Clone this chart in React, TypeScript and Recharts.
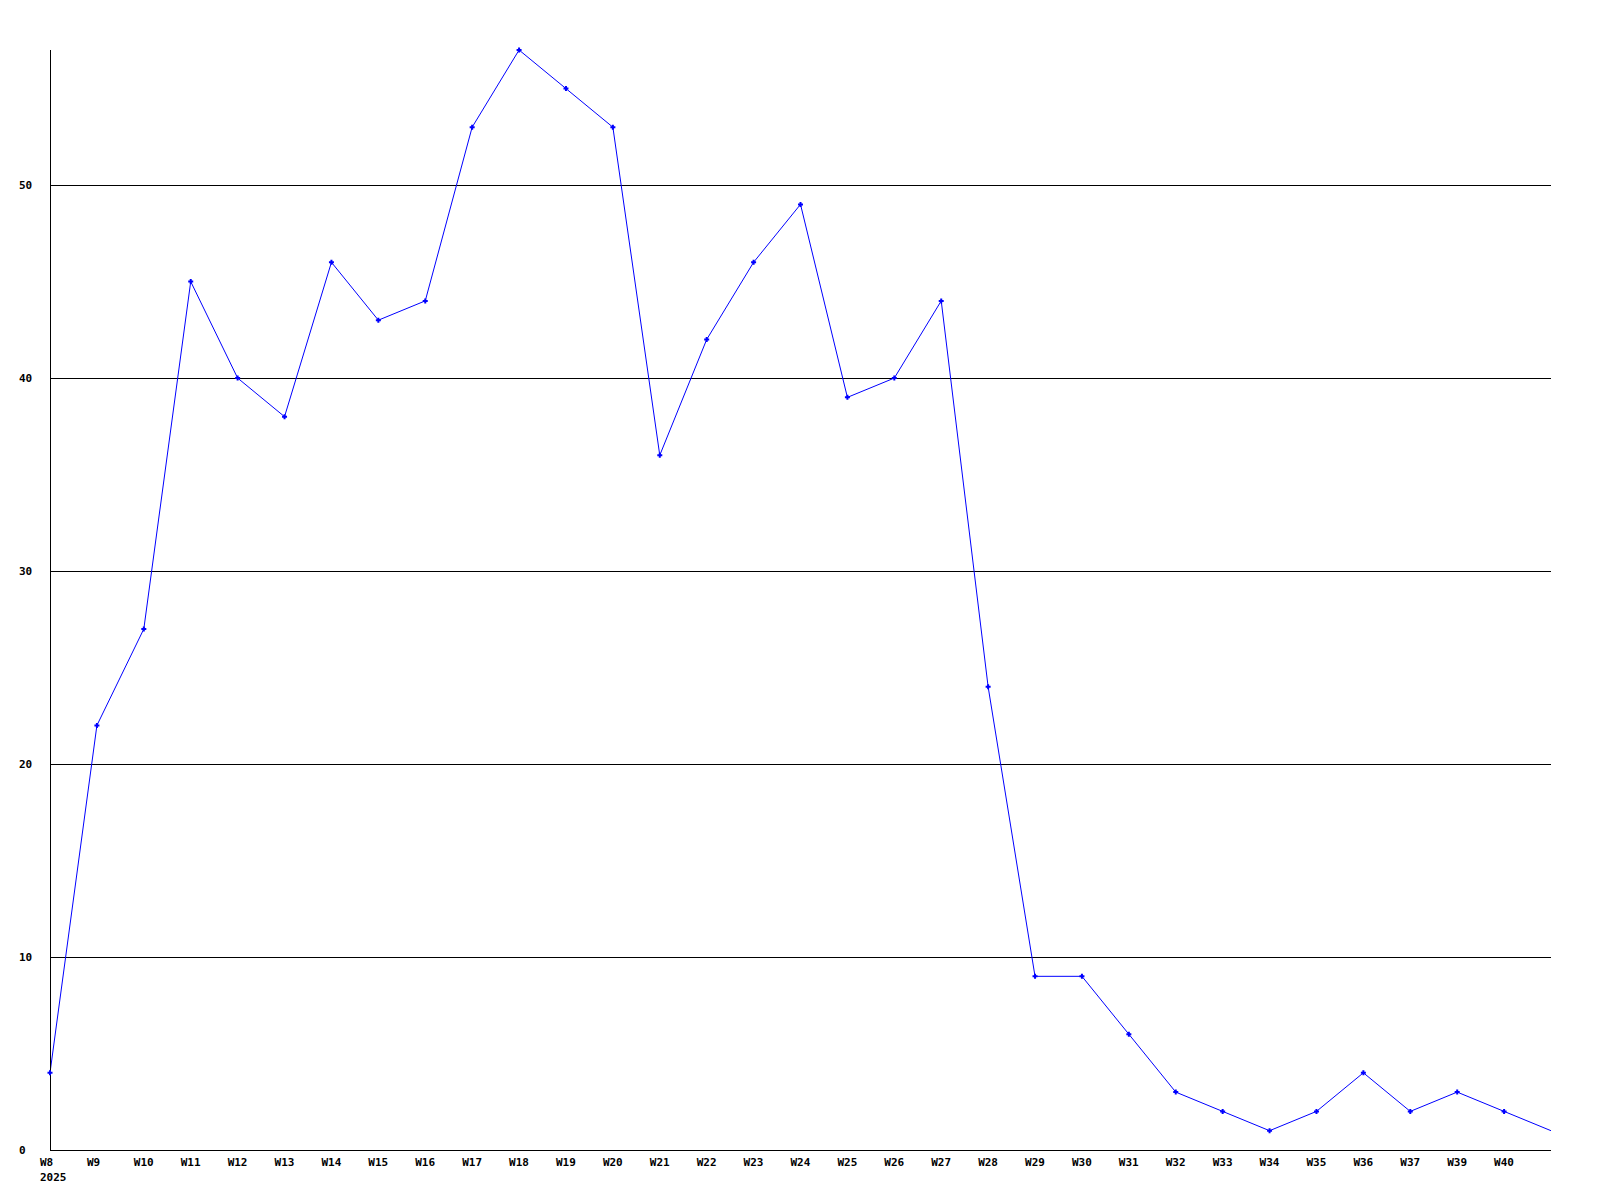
import React from 'react';
import { LineChart, Line, XAxis, YAxis, CartesianGrid } from 'recharts';

const weeks = [
  'W8', 'W9', 'W10', 'W11', 'W12', 'W13', 'W14', 'W15', 'W16', 'W17', 'W18',
  'W19', 'W20', 'W21', 'W22', 'W23', 'W24', 'W25', 'W26', 'W27', 'W28', 'W29',
  'W30', 'W31', 'W32', 'W33', 'W34', 'W35', 'W36', 'W37', 'W39', 'W40', '',
];
const counts = [
  4, 22, 27, 45, 40, 38, 46, 43, 44, 53, 57,
  55, 53, 36, 42, 46, 49, 39, 40, 44, 24, 9,
  9, 6, 3, 2, 1, 2, 4, 2, 3, 2, 1,
];
const yTicks = [0, 10, 20, 30, 40, 50];
const gridValues = [10, 20, 30, 40, 50];
const yearLabel = '2025';

const data = weeks.map((week, i) => ({ week, value: counts[i] }));

const FONT = '"DejaVu Sans Mono", monospace';

const XTick = (props: any) => {
  const { x, y, payload, index } = props;
  return (
    <g>
      <text x={x - 10} y={y + 8} fontFamily={FONT} fontSize={11} fontWeight="bold" fill="#000" textAnchor="start">
        {payload.value}
      </text>
      {index === 0 && (
        <text x={x - 10} y={y + 23} fontFamily={FONT} fontSize={11} fontWeight="bold" fill="#000" textAnchor="start">
          {yearLabel}
        </text>
      )}
    </g>
  );
};

const YTick = (props: any) => {
  const { y, payload } = props;
  return (
    <text x={19} y={y + 4} fontFamily={FONT} fontSize={11} fontWeight="bold" fill="#000" textAnchor="start">
      {payload.value}
    </text>
  );
};

const PlusDot = (props: any) => {
  const { cx, cy, index } = props;
  if (index === counts.length - 1) return <g key={`d-${index}`} />;
  return (
    <path
      key={`d-${index}`}
      d={`M${cx - 2.5},${cy} h5 M${cx},${cy - 2.5} v5`}
      stroke="#0000ff"
      strokeWidth={2}
      fill="none"
    />
  );
};

export default function App() {
  return (
    <div style={{ position: 'absolute', left: 0, top: 0, background: '#fff' }}>
      <style>{`.recharts-cartesian-grid line, .recharts-cartesian-axis-line { shape-rendering: crispEdges; }`}</style>
      <LineChart width={1600} height={1200} data={data} margin={{ top: 50, right: 49, left: 0, bottom: 0 }}>
        <CartesianGrid vertical={false} stroke="#000" strokeWidth={1} horizontalValues={gridValues} />
        <XAxis
          dataKey="week"
          interval={0}
          height={50}
          tickLine={false}
          axisLine={{ stroke: '#000', strokeWidth: 1 }}
          tick={<XTick />}
        />
        <YAxis
          width={50}
          domain={[0, 57]}
          ticks={yTicks}
          interval={0}
          tickLine={false}
          axisLine={{ stroke: '#000', strokeWidth: 1 }}
          tick={<YTick />}
        />
        <Line
          type="linear"
          dataKey="value"
          stroke="#0000ff"
          strokeWidth={1}
          dot={<PlusDot />}
          activeDot={false}
          isAnimationActive={false}
        />
      </LineChart>
    </div>
  );
}
